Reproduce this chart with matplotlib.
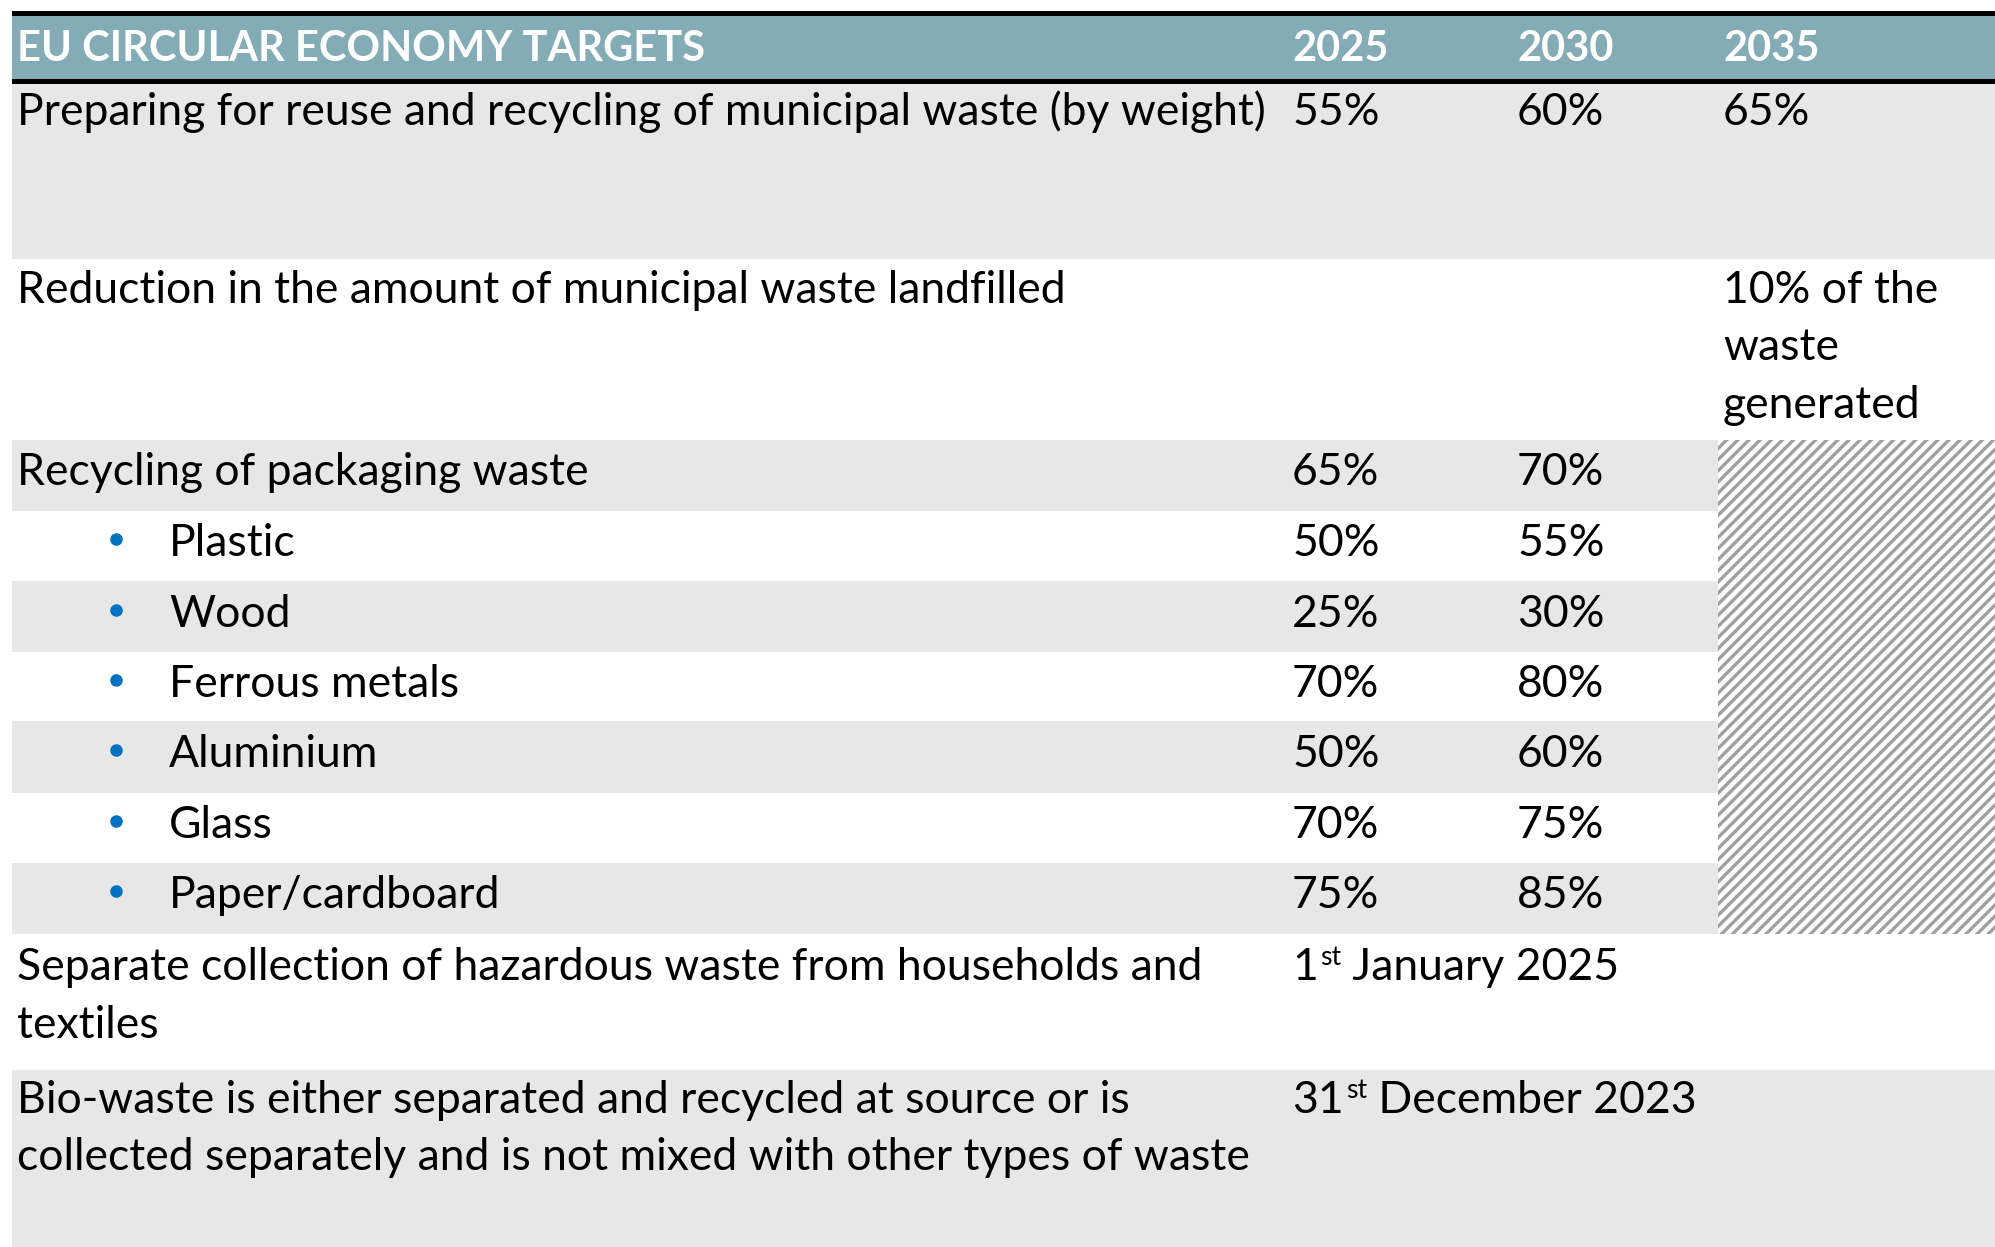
import matplotlib
matplotlib.use("Agg")
from matplotlib import pyplot as plt
from matplotlib.patches import Rectangle

# table content
header_title = "EU CIRCULAR ECONOMY TARGETS"
header_years = ["2025", "2030", "2035"]

row_labels = [
    "Preparing for reuse and recycling of municipal waste (by weight)",
    "Reduction in the amount of municipal waste landfilled",
    "Recycling of packaging waste",
    "Plastic",
    "Wood",
    "Ferrous metals",
    "Aluminium",
    "Glass",
    "Paper/cardboard",
    "Separate collection of hazardous waste from households and\ntextiles",
    "Bio-waste is either separated and recycled at source or is\ncollected separately and is not mixed with other types of waste",
]
is_bullet = [False, False, False, True, True, True, True, True, True, False, False]
targets_2025 = ["55%", "", "65%", "50%", "25%", "70%", "50%", "70%", "75%", "", ""]
targets_2030 = ["60%", "", "70%", "55%", "30%", "80%", "60%", "75%", "85%", "", ""]
targets_2035 = ["65%", "10% of the\nwaste\ngenerated", "", "", "", "", "", "", "", "", ""]
# deadlines: (day, ordinal suffix, rest)
deadlines = {9: ("1", "st", " January 2025"), 10: ("31", "st", " December 2023")}

# layout in pixels (figure is 1995 x 1247)
W, H = 1995, 1247
row_top = [84, 259, 440, 511, 581, 652, 721, 793, 863, 934, 1070]
row_bot = row_top[1:] + [H]
baseline = [125, 303, 485, 556, 627, 697, 767, 838, 908, 980, 1113]
line_gap = 57.5
x_left = 12
x_text = 17
x_bullet = 116
x_bullet_text = 169
x_cols = [1292, 1517, 1723]

teal = "#83ACB6"
grey = "#E7E7E7"
blue = "#0070C0"

plt.rcParams["font.family"] = ["Lato", "DejaVu Sans"]
plt.rcParams["hatch.color"] = "#A0A0A0"
plt.rcParams["hatch.linewidth"] = 2.4
fs = 32
fs_head = 30

fig = plt.figure(figsize=(W / 100, H / 100), dpi=100)
ax = fig.add_axes([0, 0, 1, 1])
ax.set_xlim(0, W)
ax.set_ylim(H, 0)
ax.axis("off")
renderer = fig.canvas.get_renderer()

# header band
ax.add_patch(Rectangle((x_left, 16), W - x_left, 63, facecolor=teal, linewidth=0))
ax.add_patch(Rectangle((x_left, 11), W - x_left, 5, facecolor="black", linewidth=0))
ax.add_patch(Rectangle((x_left, 79), W - x_left, 5, facecolor="black", linewidth=0))
ax.text(x_text, 61, header_title, fontsize=fs_head, fontweight="bold", color="white", va="baseline")
for x, y in zip(x_cols, header_years):
    ax.text(x, 61, y, fontsize=fs_head, fontweight="bold", color="white", va="baseline")

# row backgrounds
for i in range(len(row_labels)):
    c = grey if i % 2 == 0 else "white"
    ax.add_patch(Rectangle((x_left, row_top[i]), W - x_left, row_bot[i] - row_top[i],
                           facecolor=c, linewidth=0))

# hatched cell for 2035 packaging targets
ax.add_patch(Rectangle((1718, 440), W - 1718, 934 - 440, facecolor="white",
                       edgecolor="#A0A0A0", hatch="///", linewidth=0))


def multiline(x, y0, s):
    for k, line in enumerate(s.split("\n")):
        ax.text(x, y0 + k * line_gap, line, fontsize=fs, color="black", va="baseline")


for i, lab in enumerate(row_labels):
    b = baseline[i]
    if is_bullet[i]:
        ax.plot(x_bullet, b - 17, "o", color=blue, markersize=9, markeredgewidth=0)
        multiline(x_bullet_text, b, lab)
    else:
        multiline(x_text, b, lab)
    for x, vals in zip(x_cols, [targets_2025, targets_2030, targets_2035]):
        if vals[i]:
            multiline(x, b, vals[i])
    if i in deadlines:
        day, suf, rest = deadlines[i]
        t = ax.text(x_cols[0], b, day, fontsize=fs, va="baseline")
        x = t.get_window_extent(renderer).x1 + 2
        t = ax.text(x, b - 15, suf, fontsize=fs * 0.6, va="baseline")
        x = t.get_window_extent(renderer).x1
        ax.text(x, b, rest, fontsize=fs, va="baseline")

fig.savefig("out.png", dpi=100)
